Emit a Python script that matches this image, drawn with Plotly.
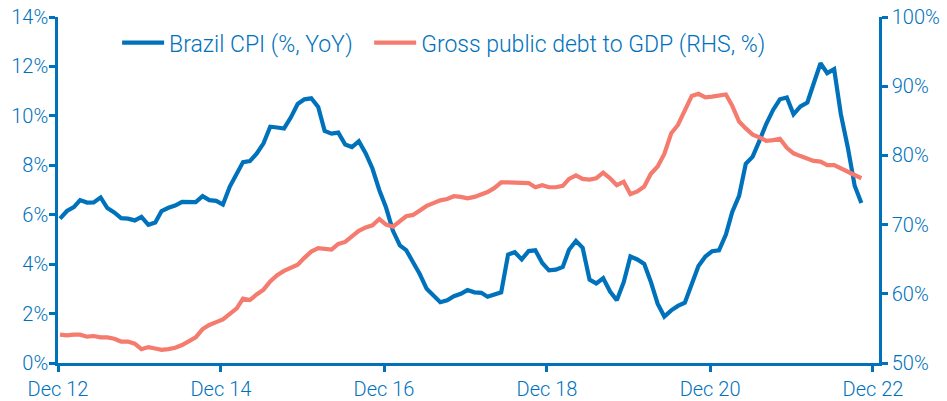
import plotly.graph_objects as go
import pandas as pd

BLUE = "#0072BC"
PINK = "#F47B6E"

cpi_name = "Brazil CPI (%, YoY)"
debt_name = "Gross public debt to GDP (RHS, %)"

# Monthly, Dec 2012 .. Oct 2022
cpi = [5.84,
       6.15, 6.31, 6.59, 6.49, 6.50, 6.70, 6.27, 6.09, 5.86, 5.84, 5.77, 5.91,
       5.59, 5.68, 6.15, 6.28, 6.37, 6.52, 6.50, 6.51, 6.75, 6.59, 6.56, 6.41,
       7.14, 7.70, 8.13, 8.17, 8.47, 8.89, 9.56, 9.53, 9.49, 9.93, 10.48, 10.67,
       10.71, 10.36, 9.39, 9.28, 9.32, 8.84, 8.74, 8.97, 8.48, 7.87, 6.99, 6.29,
       5.35, 4.76, 4.57, 4.08, 3.60, 3.00, 2.71, 2.46, 2.54, 2.70, 2.80, 2.95,
       2.86, 2.84, 2.68, 2.76, 2.86, 4.39, 4.48, 4.19, 4.53, 4.56, 4.05, 3.75,
       3.78, 3.89, 4.58, 4.94, 4.66, 3.37, 3.22, 3.43, 2.89, 2.54, 3.27, 4.31,
       4.19, 4.01, 3.30, 2.40, 1.88, 2.13, 2.31, 2.44, 3.14, 3.92, 4.31, 4.52,
       4.56, 5.20, 6.10, 6.76, 8.06, 8.35, 8.99, 9.68, 10.25, 10.67, 10.74, 10.06,
       10.38, 10.54, 11.30, 12.13, 11.73, 11.89, 10.07, 8.73, 7.17, 6.47]

debt = [54.1,
        54.0, 54.1, 54.1, 53.8, 53.9, 53.7, 53.7, 53.5, 53.1, 53.1, 52.8, 52.0,
        52.3, 52.1, 51.9, 52.0, 52.2, 52.6, 53.1, 53.7, 54.9, 55.5, 55.9, 56.3,
        57.1, 57.9, 59.3, 59.1, 59.9, 60.6, 61.8, 62.7, 63.3, 63.7, 64.2, 65.2,
        66.1, 66.6, 66.5, 66.4, 67.2, 67.5, 68.3, 69.1, 69.6, 69.9, 70.8, 70.0,
        69.7, 70.4, 71.2, 71.4, 72.1, 72.7, 73.1, 73.5, 73.7, 74.1, 74.0, 73.8,
        74.0, 74.4, 74.7, 75.3, 76.1, 76.1, 76.1, 76.0, 76.0, 75.4, 75.7, 75.4,
        75.4, 75.6, 76.6, 77.1, 76.6, 76.5, 76.7, 77.5, 76.7, 75.7, 76.2, 74.4,
        74.8, 75.5, 77.3, 78.4, 80.2, 83.2, 84.4, 86.5, 88.6, 88.9, 88.4, 88.5,
        88.7, 88.8, 87.2, 84.9, 83.9, 83.0, 82.6, 82.1, 82.2, 82.4, 81.1, 80.3,
        79.9, 79.6, 79.2, 79.1, 78.6, 78.6, 78.1, 77.6, 77.2, 76.7]

dates = pd.date_range("2012-12-01", periods=len(cpi), freq="MS") + pd.Timedelta(days=9)

x_tick_vals = ["2012-12-01", "2014-12-01", "2016-12-01", "2018-12-01", "2020-12-01", "2022-12-01"]
x_tick_text = ["Dec 12", "Dec 14", "Dec 16", "Dec 18", "Dec 20", "Dec 22"]
y_left_ticks = [0, 2, 4, 6, 8, 10, 12, 14]
y_right_ticks = [50, 60, 70, 80, 90, 100]

fig = go.Figure()
fig.add_trace(go.Scatter(x=dates, y=cpi, name=cpi_name, mode="lines",
                         line=dict(color=BLUE, width=4.2), legend="legend"))
fig.add_trace(go.Scatter(x=dates, y=debt, name=debt_name, mode="lines", yaxis="y2",
                         line=dict(color=PINK, width=4.2), legend="legend2"))

axis_common = dict(showline=True, linecolor=BLUE, linewidth=2.5, ticks="outside",
                   ticklen=6, tickwidth=2.5, tickcolor=BLUE, showgrid=False,
                   zeroline=False, automargin=False)

legend_common = dict(orientation="h", y=0.926, xanchor="left", yanchor="middle",
                     bgcolor="rgba(0,0,0,0)", itemwidth=42, font=dict(size=23))

fig.update_layout(
    width=947, height=401,
    margin=dict(l=58, r=68, t=17, b=38),
    plot_bgcolor="white", paper_bgcolor="white",
    font=dict(family="Roboto", size=20, color=BLUE, weight=300),
    xaxis=dict(type="date", range=["2012-12-01", "2022-12-28"],
               tickvals=x_tick_vals, ticktext=x_tick_text, **axis_common),
    yaxis=dict(range=[0, 14], tickvals=y_left_ticks, ticklabelstandoff=-3,
               ticktext=[f"{v}%" for v in y_left_ticks], **axis_common),
    yaxis2=dict(range=[50, 100], overlaying="y", side="right", tickvals=y_right_ticks,
                ticktext=[f"{v}%" for v in y_right_ticks], **axis_common),
    legend=dict(x=0.072, **legend_common),
    legend2=dict(x=0.379, **legend_common),
    showlegend=True,
)

fig.write_html("out.html")
